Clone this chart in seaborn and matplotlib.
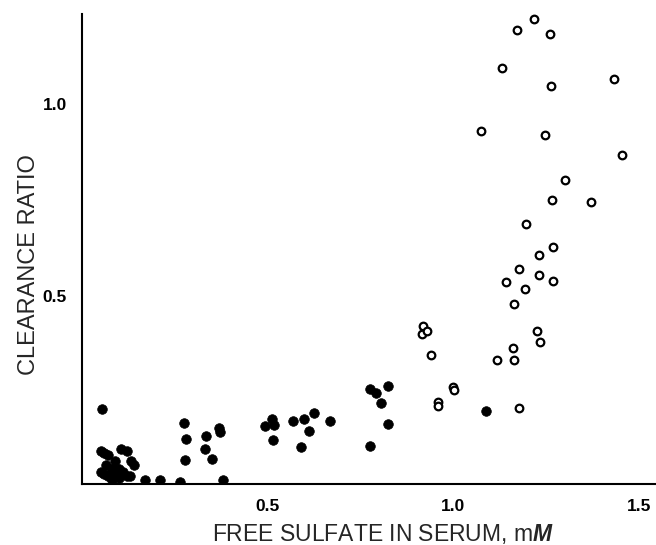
import numpy as np
import pandas as pd
import matplotlib
matplotlib.use("Agg")
import matplotlib.pyplot as plt
import seaborn as sns

# Filled circles
filled_x = [0.053, 0.05, 0.06, 0.07, 0.065, 0.08, 0.05, 0.07, 0.09, 0.10, 0.106, 0.12, 0.11, 0.133, 0.14,
            0.08, 0.10, 0.12, 0.06, 0.09, 0.13, 0.17, 0.21, 0.265, 0.38,
            0.276, 0.279, 0.278, 0.335, 0.368, 0.372, 0.332, 0.351,
            0.492, 0.513, 0.516, 0.514, 0.567, 0.597, 0.625, 0.611, 0.589, 0.669,
            0.776, 0.793, 0.823, 0.806, 0.824, 0.775, 1.087]
filled_y = [0.206, 0.095, 0.09, 0.085, 0.06, 0.05, 0.04, 0.03, 0.04, 0.05, 0.10, 0.095, 0.04, 0.071, 0.06,
            0.02, 0.025, 0.03, 0.035, 0.07, 0.03, 0.02, 0.02, 0.015, 0.02,
            0.168, 0.128, 0.073, 0.135, 0.155, 0.145, 0.10, 0.075,
            0.161, 0.180, 0.163, 0.124, 0.174, 0.179, 0.196, 0.149, 0.106, 0.175,
            0.258, 0.247, 0.266, 0.221, 0.166, 0.108, 0.20]

# Open circles
open_x = [1.218, 1.172, 1.261, 1.130, 1.433, 1.263, 1.075, 1.247, 1.454, 1.300,
          1.267, 1.370, 1.197, 1.269, 1.232, 1.178, 1.231, 1.142, 1.268, 1.194,
          1.163, 1.225, 1.233, 1.162, 1.118, 1.163, 1.0, 1.001, 1.177, 0.959, 0.959,
          0.918, 0.917, 0.930, 0.940]
open_y = [1.221, 1.193, 1.182, 1.093, 1.065, 1.048, 0.930, 0.919, 0.868, 0.802,
          0.749, 0.746, 0.688, 0.629, 0.607, 0.570, 0.554, 0.536, 0.539, 0.519,
          0.480, 0.408, 0.381, 0.364, 0.333, 0.333, 0.264, 0.256, 0.207, 0.225, 0.212,
          0.422, 0.402, 0.410, 0.345]

x_ticks = [0.5, 1.0, 1.5]
y_ticks = [0.5, 1.0]
x_label = "FREE SULFATE IN SERUM, m$\\mathbfit{M}$"
y_label = "CLEARANCE RATIO"

sns.set_style("white")
plt.rcParams["font.family"] = ["Liberation Sans", "DejaVu Sans"]
plt.rcParams["mathtext.fontset"] = "custom"
plt.rcParams["mathtext.it"] = "Liberation Sans:italic"
plt.rcParams["mathtext.bfit"] = "Liberation Sans:italic:bold"

df_f = pd.DataFrame({"x": filled_x, "y": filled_y})
df_o = pd.DataFrame({"x": open_x, "y": open_y})

fig = plt.figure(figsize=(6.56, 5.45), dpi=100)
ax = fig.add_axes([82 / 656, 61 / 545, 1 - 82 / 656, 470 / 545])

sns.scatterplot(data=df_f, x="x", y="y", ax=ax, s=48, color="black",
                edgecolor="black", linewidth=0.5, zorder=3)
sns.scatterplot(data=df_o, x="x", y="y", ax=ax, s=30, facecolor="white",
                edgecolor="black", linewidth=1.6, zorder=4)

ax.set_xlim(0, 1.546)
ax.set_ylim(0.01, 1.235)
ax.set_xticks(x_ticks)
ax.set_xticklabels([f"{t:.1f}" for t in x_ticks])
ax.set_yticks(y_ticks)
ax.set_yticklabels([f"{t:.1f}" for t in y_ticks])
for sp in ["top", "right"]:
    ax.spines[sp].set_visible(False)
for sp in ["left", "bottom"]:
    ax.spines[sp].set_color("black")
    ax.spines[sp].set_linewidth(1.5)
ax.tick_params(axis="x", direction="out", length=7.5, width=1.5, colors="black",
               labelsize=12.5, pad=3)
ax.tick_params(axis="y", direction="out", length=9, width=1.5, colors="black",
               labelsize=12.5, pad=2)
for lab in ax.get_xticklabels() + ax.get_yticklabels():
    lab.set_fontweight("bold")
ax.set_xlabel(x_label, fontsize=16.5)
ax.set_ylabel(y_label, fontsize=17)
ax.xaxis.set_label_coords(0.525, -0.08)
ax.yaxis.set_label_coords(-0.073, 0.466)

fig.savefig("out.png", dpi=100)
